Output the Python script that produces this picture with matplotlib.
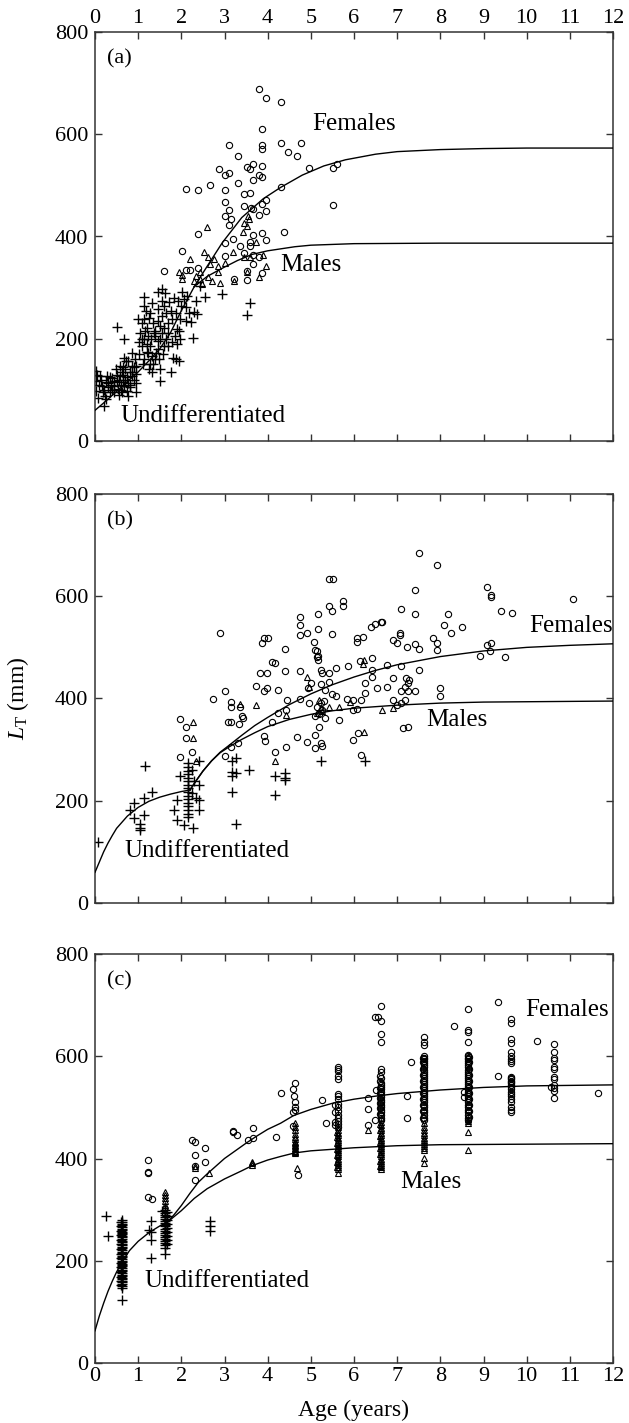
import matplotlib.pyplot as plt
import numpy as np

plt.rcParams['font.family'] = ['Liberation Serif', 'DejaVu Serif']
plt.rcParams['mathtext.fontset'] = 'custom'
plt.rcParams['mathtext.rm'] = 'Liberation Serif'
plt.rcParams['mathtext.it'] = 'Liberation Serif:italic'

# ---------------- panel (a) ----------------
a_und = np.array([
    [2.95, 287], [3.60, 270], [3.51, 246], [2.55, 281], [2.34, 273], [2.36, 248], [2.28, 202],
    [2.11, 235], [2.22, 232], [2.02, 291], [2.13, 284], [1.93, 274], [1.88, 251], [1.96, 199],
    [1.95, 157], [1.79, 193], [1.80, 163], [1.75, 134], [1.72, 271], [1.59, 222], [1.56, 297],
    [1.47, 291], [1.47, 258], [1.56, 274], [1.47, 235], [1.56, 212], [1.51, 199], [1.60, 186],
    [1.42, 173], [1.49, 160], [1.51, 140], [1.51, 118], [1.37, 212], [1.28, 186], [1.33, 167],
    [1.14, 281], [1.14, 265], [1.28, 251], [1.14, 238], [1.05, 212], [1.14, 199], [1.23, 206],
    [1.10, 186], [1.23, 173], [1.14, 160], [1.28, 150], [1.33, 134], [1.00, 238], [1.03, 193],
    [0.96, 147], [0.68, 199], [0.51, 223], [0.68, 163], [0.77, 157], [0.86, 147], [0.58, 147],
    [0.86, 127], [0.96, 114], [0.77, 114], [0.58, 127], [0.68, 108], [0.54, 101], [0.40, 124],
    [0.45, 108], [0.31, 114], [0.12, 127], [0.03, 137], [0.03, 118], [0.17, 108], [0.03, 98],
    [0.23, 88], [0.26, 82], [0.21, 69], [0.82, 105], [0.96, 95], [0.77, 88], [0.63, 95],
    [0.35, 95], [0.96, 131], [0.86, 173], [0.72, 157], [1.88, 160], [1.70, 186], [1.70, 212],
    [1.79, 238], [1.98, 238], [2.07, 278], [2.44, 304], [0.70, 120], [0.80, 135], [0.65, 130],
    [0.90, 120], [0.50, 115], [0.60, 110], [0.45, 95], [1.20, 222], [1.25, 240], [1.40, 205],
    [1.45, 180], [1.20, 175], [1.35, 150], [1.65, 250], [1.90, 220], [2.10, 262], [2.30, 252],
    [0.10, 110], [0.15, 120], [0.20, 100], [0.25, 115], [0.30, 105], [0.35, 125], [0.40, 100],
    [0.45, 118], [0.50, 130], [0.55, 120], [0.60, 100], [0.65, 115], [0.70, 140], [0.75, 125],
    [0.80, 110], [0.85, 135], [0.90, 145], [0.55, 90], [0.75, 98], [0.65, 145], [0.05, 130],
    [0.08, 85], [1.10, 200], [1.15, 215], [1.20, 190], [1.30, 200], [1.35, 230], [1.40, 215],
    [1.45, 195], [1.50, 225], [1.55, 245], [1.60, 265], [1.65, 200], [1.70, 230], [1.75, 255],
    [1.85, 205], [1.90, 190], [1.95, 215], [1.12, 150], [1.25, 140], [1.40, 160], [1.58, 170],
    [1.02, 170], [1.08, 230], [1.18, 255], [1.32, 270], [1.62, 290], [1.82, 280], [2.00, 265],
    [2.18, 250], [0.92, 160], [0.62, 135], [0.48, 140], [0.38, 110], [0.28, 128], [0.18, 95],
])
a_fem = np.array([
    [3.79, 689], [3.96, 671], [4.30, 664], [3.88, 611], [3.11, 578], [3.87, 578], [3.87, 571],
    [4.30, 583], [4.78, 583], [4.46, 566], [4.67, 558], [3.31, 558], [2.88, 532], [3.51, 536],
    [3.67, 542], [3.60, 532], [3.87, 538], [3.02, 521], [3.11, 524], [3.79, 521], [3.88, 517],
    [3.67, 511], [4.95, 534], [5.51, 534], [5.60, 542], [2.66, 501], [3.31, 504], [2.11, 493],
    [2.38, 491], [3.01, 491], [3.45, 483], [3.58, 485], [4.30, 496], [3.01, 468], [3.95, 472],
    [3.88, 464], [5.51, 462], [3.45, 460], [3.62, 456], [3.67, 453], [3.96, 449], [3.10, 451],
    [3.01, 440], [3.14, 434], [3.79, 442], [3.10, 423], [2.38, 404], [4.38, 408], [3.02, 387],
    [3.20, 396], [3.67, 403], [3.87, 407], [3.96, 393], [3.37, 381], [3.58, 389], [3.60, 381],
    [2.01, 371], [3.67, 363], [3.45, 368], [3.02, 361], [3.79, 359], [3.67, 346], [3.88, 328],
    [1.59, 333], [2.10, 334], [2.21, 334], [2.38, 338], [3.21, 317], [3.51, 314], [3.51, 332],
])
a_mal = np.array([
    [2.59, 418], [2.21, 356], [1.95, 331], [2.02, 317], [2.44, 330], [2.53, 369], [2.62, 359],
    [2.76, 356], [2.66, 346], [2.86, 343], [3.00, 349], [3.20, 370], [3.42, 408], [3.46, 427],
    [3.57, 434], [3.53, 420], [3.74, 390], [3.46, 359], [3.90, 363], [3.96, 343], [3.79, 321],
    [3.21, 312], [2.89, 310], [2.62, 320], [2.49, 307], [2.44, 317], [3.51, 331], [2.35, 323],
    [2.02, 324], [2.86, 330], [3.55, 440], [3.60, 360], [2.70, 312], [2.30, 312],
])
a_ucurve = np.array([[0, 60], [0.25, 78], [0.5, 97], [0.75, 116], [1.0, 135], [1.25, 157],
                     [1.5, 180], [1.75, 212], [2.0, 255], [2.3, 302]])
a_fcurve = np.array([[2.3, 302], [2.6, 342], [2.95, 388], [3.4, 437], [3.9, 474], [4.3, 496],
                     [4.8, 520], [5.3, 538], [5.8, 550], [6.5, 561], [7.0, 566], [8.0, 570],
                     [9.0, 572], [10.0, 573], [12.0, 573]])
a_mcurve = np.array([[2.3, 302], [2.6, 322], [2.95, 338], [3.3, 353], [3.64, 365], [4.0, 372],
                     [4.63, 380], [5.0, 383], [6.0, 386], [8.0, 387], [12.0, 387]])

# ---------------- panel (b) ----------------
b_und = np.array([
    [0.07, 120], [0.82, 182], [0.91, 195], [0.91, 166], [1.05, 147], [1.05, 143], [1.05, 154],
    [1.16, 268], [1.14, 205], [1.33, 218], [1.14, 173], [1.84, 182], [1.91, 202], [1.91, 163],
    [1.98, 248], [2.07, 153], [2.16, 273], [2.16, 266], [2.16, 259], [2.16, 252], [2.16, 245],
    [2.16, 238], [2.16, 231], [2.16, 224], [2.16, 217], [2.16, 210], [2.16, 203], [2.16, 196],
    [2.16, 189], [2.16, 182], [2.16, 175], [2.16, 169], [2.26, 147], [2.30, 238], [2.40, 277],
    [2.41, 231], [2.35, 205], [2.41, 202], [2.40, 182], [3.17, 277], [3.26, 283], [3.17, 257],
    [3.26, 254], [3.17, 249], [3.57, 261], [3.17, 218], [3.26, 155], [4.16, 249], [4.41, 254],
    [4.41, 244], [4.41, 241], [4.16, 212], [5.23, 278], [6.25, 278], [2.25, 260], [2.25, 215],
])
b_fem = np.array([
    [7.50, 684], [7.92, 661], [5.41, 633], [5.51, 634], [7.41, 612], [9.08, 619], [9.17, 603],
    [9.17, 599], [11.08, 594], [5.74, 590], [5.74, 580], [5.41, 580], [5.49, 572], [7.08, 575],
    [9.41, 571], [9.67, 567], [4.74, 560], [5.16, 565], [7.41, 565], [8.17, 565], [4.74, 544],
    [6.66, 550], [6.62, 549], [6.48, 546], [6.39, 539], [8.08, 544], [8.50, 539], [2.90, 529],
    [3.91, 519], [4.00, 519], [3.88, 509], [4.74, 525], [4.92, 528], [5.16, 535], [5.49, 526],
    [6.06, 518], [6.06, 511], [6.22, 521], [7.07, 529], [7.07, 524], [6.90, 515], [6.99, 509],
    [7.83, 519], [7.92, 509], [8.25, 529], [7.41, 506], [7.22, 501], [7.50, 497], [7.92, 495],
    [9.08, 505], [9.17, 508], [9.16, 492], [8.92, 484], [9.50, 481], [4.41, 497], [5.07, 511],
    [5.10, 495], [5.16, 483], [5.16, 476], [4.09, 472], [4.16, 470], [4.41, 453], [4.74, 454],
    [3.83, 450], [3.99, 450], [5.41, 450], [5.58, 459], [5.87, 464], [6.14, 474], [6.42, 480],
    [6.76, 466], [7.08, 463], [7.50, 456], [3.74, 425], [3.91, 414], [3.99, 420], [4.23, 417],
    [2.74, 399], [3.00, 414], [3.16, 394], [3.16, 383], [3.41, 366], [3.36, 384], [3.42, 362],
    [3.07, 355], [3.16, 355], [3.33, 350], [3.32, 313], [3.00, 287], [3.14, 306], [4.44, 397],
    [4.42, 378], [4.24, 372], [4.09, 355], [3.91, 326], [3.93, 316], [4.16, 295], [4.42, 306],
    [4.67, 324], [4.90, 314], [5.10, 329], [5.10, 304], [5.23, 313], [5.25, 307], [4.95, 391],
    [4.74, 399], [4.94, 420], [5.00, 430], [5.14, 492], [5.14, 482], [5.23, 456], [5.25, 450],
    [5.23, 429], [5.32, 417], [5.41, 433], [5.49, 409], [5.58, 404], [5.23, 391], [5.14, 384],
    [5.09, 365], [5.32, 362], [5.65, 358], [6.06, 379], [5.97, 397], [5.83, 399], [5.97, 378],
    [6.16, 397], [6.25, 430], [6.25, 410], [6.42, 443], [6.42, 456], [6.53, 420], [6.76, 423],
    [6.90, 440], [6.90, 397], [6.99, 388], [7.08, 414], [7.08, 391], [7.18, 397], [7.18, 423],
    [7.20, 440], [7.25, 430], [7.25, 414], [7.27, 436], [7.41, 414], [7.13, 343], [7.25, 345],
    [7.99, 420], [7.99, 404], [6.09, 332], [5.97, 319], [6.16, 290], [1.98, 360], [2.10, 322],
    [2.10, 345], [2.25, 295], [5.20, 370], [5.25, 378], [5.20, 345], [5.30, 395], [1.98, 285],
])
b_mal = np.array([
    [2.26, 355], [2.26, 322], [2.33, 277], [4.16, 277], [4.42, 368], [3.74, 388], [3.36, 390],
    [4.92, 443], [4.95, 423], [5.23, 384], [5.14, 371], [5.41, 384], [5.65, 383], [5.90, 394],
    [6.23, 475], [6.23, 335], [6.66, 377], [6.90, 381], [5.20, 398], [5.25, 376], [6.20, 468],
])
b_ucurve = np.array([[0, 60], [0.1, 80], [0.2, 100], [0.3, 117], [0.4, 132], [0.5, 146],
                     [0.75, 170], [1.0, 187], [1.25, 199], [1.5, 207], [1.75, 213], [2.0, 218],
                     [2.2, 221]])
b_fcurve = np.array([[2.2, 221], [2.35, 240], [2.5, 258], [2.7, 278], [2.9, 295], [3.1, 308],
                     [3.4, 328], [3.7, 347], [4.0, 363], [4.5, 388], [5.0, 409], [5.5, 427],
                     [6.0, 442], [6.5, 455], [7.0, 466], [8.0, 482], [9.0, 493], [10.0, 500],
                     [11.0, 504], [12.0, 507]])
b_mcurve = np.array([[2.2, 221], [2.35, 240], [2.5, 258], [2.7, 278], [2.9, 294], [3.1, 305],
                     [3.4, 320], [3.7, 333], [4.0, 345], [4.5, 359], [5.0, 369], [5.5, 376],
                     [6.0, 381], [7.0, 387], [8.0, 391], [9.0, 393], [12.0, 395]])

# ---------------- panel (c) ----------------
# undifferentiated: age-0 column, age-1 column and a few loose points
c_und_col0 = [279, 276, 272, 270, 266, 263, 261, 257, 254, 252, 248, 246, 242, 239, 237, 233,
              231, 227, 224, 222, 218, 215, 213, 209, 207, 203, 200, 198, 194, 191, 189, 185,
              182, 179, 176, 173, 170, 167, 164, 161, 158, 155, 151, 147, 124]
c_und_col0b = [275, 268, 259, 250, 241, 232, 223, 214, 205, 196, 187, 178, 169, 160, 152]
c_und_col1 = [300, 294, 290, 286, 282, 278, 274, 270, 267, 263, 259, 255, 251, 247, 243, 239,
              235, 230, 224, 213]
c_und_col1b = [296, 288, 280, 272, 265, 257, 249, 241, 233]
c_und_other = np.array([[0.26, 287], [0.31, 249], [1.25, 260], [1.30, 277], [1.30, 257],
                        [1.30, 240], [1.30, 205], [1.55, 298], [2.67, 278], [2.67, 268],
                        [2.67, 258]])
c_fem = np.array([
    [1.23, 398], [1.23, 374], [1.23, 371], [1.23, 324], [1.33, 320], [2.25, 436], [2.32, 433],
    [2.32, 407], [2.32, 385], [2.32, 358], [2.55, 420], [2.55, 394], [3.20, 454], [3.20, 451],
    [3.30, 446], [3.55, 437], [3.65, 459], [3.65, 441], [4.20, 442], [4.31, 528], [4.58, 535],
    [4.63, 548], [4.60, 522], [4.63, 511], [4.63, 501], [4.63, 494], [4.58, 490], [4.58, 463],
    [4.70, 368], [5.25, 515], [5.35, 469], [5.55, 505], [5.55, 490], [5.55, 472], [5.55, 465],
    [6.32, 518], [6.32, 497], [6.32, 466], [6.48, 676], [6.48, 476], [6.50, 534], [6.55, 677],
    [7.23, 523], [7.23, 479], [7.32, 589], [8.32, 660], [8.55, 520], [8.55, 530], [9.34, 706],
    [9.34, 562], [10.24, 630], [10.56, 540], [11.65, 528],
])
c_fem_col5 = [579, 576, 571, 562, 556, 527, 522, 517, 506, 500, 492, 486, 480, 474, 468, 462]
c_fem_col6 = [699, 669, 644, 628, 575, 569, 558, 548, 544, 540, 535, 530, 525, 520, 515, 510,
              505, 500, 495, 490, 485, 480, 475]
c_fem_col6b = [562, 552, 538, 528, 518, 508, 498, 488]
c_fem_col7 = [638, 628, 622, 600, 597, 594, 590, 586, 582, 578, 574, 570, 566, 562, 558, 554,
              550, 546, 542, 538, 534, 530, 526, 522, 518, 514, 510, 505, 500, 495, 490, 485,
              480, 475]
c_fem_col7b = [596, 588, 576, 564, 552, 540, 528, 516, 504, 492, 480]
c_fem_col8 = [693, 652, 648, 628, 603, 600, 597, 594, 590, 586, 582, 578, 574, 570, 566, 562,
              558, 554, 550, 546, 542, 538, 534, 530, 526, 522, 518, 514, 510, 505, 500, 495,
              490, 485, 480, 476]
c_fem_col8b = [598, 588, 576, 564, 552, 540, 528, 516, 504, 492, 482]
c_fem_col9 = [673, 665, 634, 626, 609, 600, 595, 590, 587, 560, 557, 555, 552, 549, 547, 543,
              540, 535, 531, 527, 522, 517, 511, 500, 495, 490]
c_fem_col10 = [624, 609, 597, 593, 579, 576, 560, 556, 544, 538, 533, 518]
c_mal = np.array([[2.32, 385], [2.32, 382], [2.65, 372], [4.68, 382], [6.32, 455]])
c_mal_col1 = [335, 328, 322, 316, 310, 305]
c_mal_col3 = [394, 391, 388]
c_mal_col4 = [470, 462, 455, 448, 443, 438, 433, 430, 427, 424, 421, 418, 415, 412, 410]
c_mal_col5 = [462, 456, 450, 445, 440, 436, 432, 428, 424, 420, 416, 412, 408, 404, 400, 396,
              392, 388, 384, 380, 372]
c_mal_col5b = [452, 442, 430, 418, 406, 394, 384]
c_mal_col6 = [480, 472, 466, 460, 455, 450, 445, 440, 436, 432, 428, 424, 420, 416, 412, 408,
              404, 400, 396, 392, 388, 384, 380]
c_mal_col6b = [468, 456, 444, 432, 420, 408, 396, 386]
c_mal_col7 = [470, 462, 456, 450, 445, 440, 436, 432, 428, 424, 420, 416, 401, 392]
c_mal_col8 = [478, 474, 470, 452, 416]
c_col_ages = [0.63, 1.63, 2.63, 3.63, 4.63, 5.63, 6.63, 7.63, 8.63, 9.63, 10.63]
c_col_ages_b = [0.60, 1.66, 2.66, 3.66, 4.66, 5.60, 6.60, 7.60, 8.66, 9.66, 10.66]

c_ucurve = np.array([[0, 63], [0.1, 92], [0.2, 117], [0.3, 140], [0.4, 160], [0.5, 178],
                     [0.63, 198], [0.8, 220], [1.0, 238], [1.25, 255], [1.5, 268], [1.7, 277]])
c_fcurve = np.array([[1.7, 277], [1.85, 292], [2.0, 308], [2.2, 332], [2.4, 354], [2.6, 370],
                     [2.8, 385], [3.0, 400], [3.25, 415], [3.5, 430], [3.75, 444], [4.0, 457],
                     [4.3, 469], [4.6, 484], [5.0, 496], [5.5, 508], [6.0, 516], [6.5, 522],
                     [7.0, 527], [8.0, 534], [9.0, 539], [10.0, 542], [11.0, 543], [12.0, 544]])
c_mcurve = np.array([[1.7, 277], [2.0, 298], [2.3, 322], [2.6, 341], [3.0, 360], [3.4, 376],
                     [3.64, 386], [4.0, 397], [4.3, 404], [4.63, 411], [5.0, 415], [6.0, 421],
                     [7.0, 425], [8.0, 427], [12.0, 429]])


def col(age, values):
    return np.column_stack([np.full(len(values), age), values])


c_und = np.vstack([col(c_col_ages[0], c_und_col0), col(c_col_ages_b[0], c_und_col0b),
                   col(c_col_ages[1], c_und_col1), col(c_col_ages_b[1], c_und_col1b),
                   c_und_other])
c_fem_all = np.vstack(
    [c_fem]
    + [col(c_col_ages[i], v) for i, v in [(5, c_fem_col5), (6, c_fem_col6), (7, c_fem_col7),
                                          (8, c_fem_col8), (9, c_fem_col9), (10, c_fem_col10)]]
    + [col(c_col_ages_b[i], v) for i, v in [(6, c_fem_col6b), (7, c_fem_col7b),
                                            (8, c_fem_col8b)]])
c_mal_all = np.vstack(
    [c_mal]
    + [col(c_col_ages[i], v) for i, v in [(1, c_mal_col1), (3, c_mal_col3), (4, c_mal_col4),
                                          (5, c_mal_col5), (6, c_mal_col6), (7, c_mal_col7),
                                          (8, c_mal_col8)]]
    + [col(c_col_ages_b[i], v) for i, v in [(5, c_mal_col5b), (6, c_mal_col6b)]])

FS = 16      # tick labels
FT = 18      # in-plot labels
fig = plt.figure(figsize=(6.29, 14.23), dpi=100)
left, width, height = 95 / 629, 518 / 629, 409 / 1423
bottoms = [1 - 441 / 1423, 1 - 903 / 1423, 1 - 1363 / 1423]
axs = [fig.add_axes([left, b, width, height]) for b in bottoms]

panels = [
    (a_und, a_fem, a_mal, a_ucurve, a_fcurve, a_mcurve, '(a)',
     (5.04, 620), (4.3, 344), (0.58, 49)),
    (b_und, b_fem, b_mal, b_ucurve, b_fcurve, b_mcurve, '(b)',
     (10.06, 542), (7.67, 357), (0.68, 101)),
    (c_und, c_fem_all, c_mal_all, c_ucurve, c_fcurve, c_mcurve, '(c)',
     (9.96, 690), (7.07, 355), (1.14, 160)),
]

for i, (ax, p) in enumerate(zip(axs, panels)):
    und, fem, mal, uc, fc, mc, tag, fpos, mpos, upos = p
    ax.plot(und[:, 0], und[:, 1], '+', color='k', ms=7, mew=1.0, zorder=2)
    ax.plot(fem[:, 0], fem[:, 1], 'o', mfc='none', mec='k', ms=4.5, mew=0.8, zorder=2)
    ax.plot(mal[:, 0], mal[:, 1], '^', mfc='none', mec='k', ms=5, mew=0.8, zorder=2)
    for cv in (uc, fc, mc):
        ax.plot(cv[:, 0], cv[:, 1], '-', color='k', lw=1.0, zorder=3)
    ax.text(0.28, 748, tag, fontsize=FS, va='center', ha='left')
    ax.text(fpos[0], fpos[1], 'Females', fontsize=FT, va='center', ha='left')
    ax.text(mpos[0], mpos[1], 'Males', fontsize=FT, va='center', ha='left')
    ax.text(upos[0], upos[1], 'Undifferentiated', fontsize=FT, va='center', ha='left')

    ax.set_xlim(0, 12)
    ax.set_ylim(0, 800)
    ax.set_xticks(np.arange(0, 13, 1))
    ax.set_yticks(np.arange(0, 801, 200))
    ax.tick_params(direction='in', length=5, width=1, top=True, right=True,
                   labelsize=FS, pad=3, color='#333333')
    ax.tick_params(axis='y', pad=5)
    ax.tick_params(axis='x', labelbottom=(i == 2), labeltop=(i == 0))
    for s in ax.spines.values():
        s.set_linewidth(1.1)
        s.set_color('#333333')

fig.text(18 / 629, 1 - 698 / 1423, r'$L_{\mathrm{T}}$ (mm)', rotation=90,
         ha='center', va='center', fontsize=17)
fig.text(354 / 629, 1 - 1410 / 1423, 'Age (years)', ha='center', va='center', fontsize=17)

plt.savefig('out.png', dpi=100)
